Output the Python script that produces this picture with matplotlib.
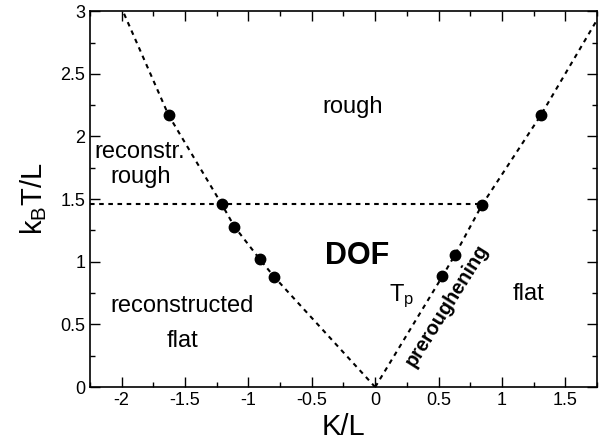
import matplotlib
matplotlib.use("Agg")
import matplotlib.pyplot as plt
from matplotlib.ticker import MultipleLocator, FormatStrFormatter

plt.rcParams['font.family'] = ['Liberation Sans', 'DejaVu Sans']
plt.rcParams['axes.unicode_minus'] = False

# transition points
left_K = [-1.63, -1.21, -1.11, -0.91, -0.795]
left_T = [2.17, 1.458, 1.28, 1.02, 0.878]
right_K = [0.53, 0.63, 0.842, 1.307]
right_T = [0.883, 1.056, 1.452, 2.17]

# dashed phase boundaries
left_line_K = [0.0, -0.795, -0.91, -1.11, -1.21, -1.63, -1.99]
left_line_T = [0.0, 0.878, 1.02, 1.28, 1.458, 2.17, 3.0]
right_line_K = [0.0, 0.53, 0.63, 0.842, 1.307, 1.75]
right_line_T = [0.0, 0.883, 1.056, 1.452, 2.17, 2.93]
horiz_K = [-2.25, 0.842]
horiz_T = [1.458, 1.458]

fig = plt.figure(figsize=(6.06, 4.48), dpi=100)
ax = fig.add_axes([0.1485, 0.136, 0.8366, 0.839])

dash = (0, (2.2, 2.2))
ax.plot(left_line_K, left_line_T, color='black', lw=1.5, linestyle=dash)
ax.plot(right_line_K, right_line_T, color='black', lw=1.5, linestyle=dash)
ax.plot(horiz_K, horiz_T, color='black', lw=1.5, linestyle=dash)

ax.plot(left_K, left_T, 'o', color='black', ms=7.5)
ax.plot(right_K, right_T, 'o', color='black', ms=7.5)

ax.set_xlim(-2.25, 1.75)
ax.set_ylim(0, 3)
ax.xaxis.set_major_locator(MultipleLocator(0.5))
ax.xaxis.set_minor_locator(MultipleLocator(0.25))
ax.yaxis.set_major_locator(MultipleLocator(0.5))
ax.yaxis.set_minor_locator(MultipleLocator(0.25))
ax.xaxis.set_major_formatter(FormatStrFormatter('%g'))
ax.yaxis.set_major_formatter(FormatStrFormatter('%g'))
ax.tick_params(which='both', direction='in', top=True, right=True, labelsize=13, width=1)
ax.tick_params(which='major', length=7)
ax.tick_params(which='minor', length=3.5)
for s in ax.spines.values():
    s.set_linewidth(1.2)

ax.set_xlabel('K/L', fontsize=21, labelpad=3)
ax.set_ylabel(r'$\mathregular{k_BT/L}$', fontsize=21, labelpad=8)

fs = 17
ax.text(-0.18, 2.19, 'rough', fontsize=fs, ha='center', va='baseline')
ax.text(-1.854, 1.828, 'reconstr.', fontsize=fs, ha='center', va='baseline')
ax.text(-1.854, 1.628, 'rough', fontsize=fs, ha='center', va='baseline')
ax.text(-1.52, 0.599, 'reconstructed', fontsize=fs, ha='center', va='baseline')
ax.text(-1.52, 0.319, 'flat', fontsize=fs, ha='center', va='baseline')
ax.text(-0.146, 1.045, 'DOF', fontsize=22, fontweight='bold', ha='center', va='center')
ax.text(0.21, 0.726, r'$\mathregular{T_p}$', fontsize=fs, ha='center', va='center')
ax.text(0.568, 0.654, 'preroughening', fontsize=14.3, fontweight='bold', rotation=58,
        ha='center', va='center')
ax.text(1.207, 0.694, 'flat', fontsize=fs, ha='center', va='baseline')

fig.savefig('out.png', dpi=100)
